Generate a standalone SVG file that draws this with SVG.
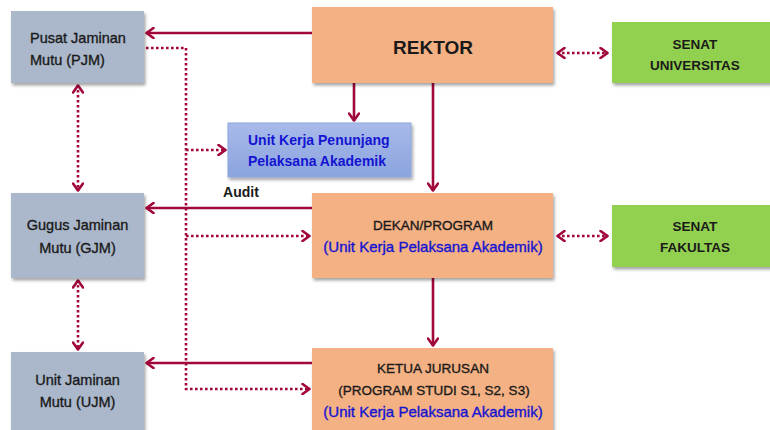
<svg xmlns="http://www.w3.org/2000/svg" width="770" height="430" viewBox="0 0 770 430">
<defs>
<filter id="sh" x="-10%" y="-10%" width="125%" height="130%">
<feDropShadow dx="1.5" dy="2.5" stdDeviation="1.5" flood-color="#000" flood-opacity="0.35"/>
</filter>
<linearGradient id="blueg" x1="0" y1="0" x2="0" y2="1">
<stop offset="0" stop-color="#A9BAEA"/>
<stop offset="1" stop-color="#8AA4DE"/>
</linearGradient>
<marker id="ah" viewBox="0 0 10 12" refX="9" refY="6" markerWidth="10" markerHeight="12" markerUnits="userSpaceOnUse" orient="auto-start-reverse">
<path d="M1.5,1 L8.5,6 L1.5,11" fill="none" stroke="#A1063D" stroke-width="2.6" stroke-linecap="round" stroke-linejoin="round"/>
</marker>
<style>
text{font-family:"Liberation Sans",Arial,sans-serif;fill:#1a1a1a}
.gray{fill:#ABB8CB;filter:url(#sh)}
.org{fill:#F4B183;filter:url(#sh)}
.grn{fill:#92D050;filter:url(#sh)}
.blu{fill:url(#blueg);stroke:#8EA6DC;stroke-width:1;filter:url(#sh)}
.t{font-size:14.5px}
.r{stroke:#1a1a1a;stroke-width:0.35}
.b{font-weight:bold}
.c{text-anchor:middle}
.blue{fill:#1414D2}
.rb{stroke:#1414D2;stroke-width:0.35}
.sol{fill:none;stroke:#A1063D;stroke-width:2.6}
.dot{fill:none;stroke:#A1063D;stroke-width:2.6;stroke-dasharray:2.6 2.4}
</style>
</defs>

<g id="connectors">
<path class="sol" d="M312,33 H146" marker-end="url(#ah)"/>
<path class="sol" d="M354,83 V121" marker-end="url(#ah)"/>
<path class="sol" d="M433,83 V191" marker-end="url(#ah)"/>
<path class="dot" d="M557,53 H608" marker-start="url(#ah)" marker-end="url(#ah)"/>
<path class="dot" d="M146,48 H186 V389 H310" marker-end="url(#ah)"/>
<path class="dot" d="M186,150 H226" marker-end="url(#ah)"/>
<path class="dot" d="M186,236 H310" marker-end="url(#ah)"/>
<path class="dot" d="M78,85 V191" marker-start="url(#ah)" marker-end="url(#ah)"/>
<path class="dot" d="M78,280 V350" marker-start="url(#ah)" marker-end="url(#ah)"/>
<path class="sol" d="M312,208 H146" marker-end="url(#ah)"/>
<path class="sol" d="M312,363 H146" marker-end="url(#ah)"/>
<path class="sol" d="M433,278 V346" marker-end="url(#ah)"/>
<path class="dot" d="M557,236 H608" marker-start="url(#ah)" marker-end="url(#ah)"/>
<text x="241" y="197" class="b c" font-size="14">Audit</text>
</g>

<g id="pjm">
<rect class="gray" x="11" y="11" width="133" height="72"/>
<text x="30" y="43" class="t r">Pusat Jaminan</text>
<text x="30" y="65" class="t r">Mutu (PJM)</text>
</g>

<g id="rektor">
<rect class="org" x="312" y="7" width="241" height="76"/>
<text x="433" y="54" class="b c" font-size="19">REKTOR</text>
</g>

<g id="senat-universitas">
<rect class="grn" x="612" y="22" width="162" height="61"/>
<text x="695" y="49" class="b c" font-size="13.5">SENAT</text>
<text x="695" y="70" class="b c" font-size="13.5">UNIVERSITAS</text>
</g>

<g id="unit-penunjang">
<rect class="blu" x="228" y="123" width="183" height="54"/>
<text x="248" y="145" class="b blue" font-size="14">Unit Kerja Penunjang</text>
<text x="248" y="166" class="b blue" font-size="14">Pelaksana Akademik</text>
</g>

<g id="gjm">
<rect class="gray" x="11" y="193" width="133" height="85"/>
<text x="77.5" y="230" class="t c r">Gugus Jaminan</text>
<text x="77.5" y="253" class="t c r">Mutu (GJM)</text>
</g>

<g id="dekan">
<rect class="org" x="312" y="193" width="241" height="85"/>
<text x="433" y="230" class="c r" font-size="13.5">DEKAN/PROGRAM</text>
<text x="433" y="252" class="c blue rb" font-size="15">(Unit Kerja Pelaksana Akademik)</text>
</g>

<g id="senat-fakultas">
<rect class="grn" x="612" y="205" width="162" height="62"/>
<text x="695" y="231" class="b c" font-size="13.5">SENAT</text>
<text x="695" y="252" class="b c" font-size="13.5">FAKULTAS</text>
</g>

<g id="ujm">
<rect class="gray" x="11" y="352" width="133" height="90"/>
<text x="77.5" y="385" class="t c r">Unit Jaminan</text>
<text x="77.5" y="407" class="t c r">Mutu (UJM)</text>
</g>

<g id="ketua">
<rect class="org" x="312" y="348" width="241" height="95"/>
<text x="433" y="373" class="c r" font-size="13.5">KETUA JURUSAN</text>
<text x="434" y="395" class="c r" font-size="13.5">(PROGRAM STUDI S1, S2, S3)</text>
<text x="433" y="417" class="c blue rb" font-size="15">(Unit Kerja Pelaksana Akademik)</text>
</g>
</svg>
